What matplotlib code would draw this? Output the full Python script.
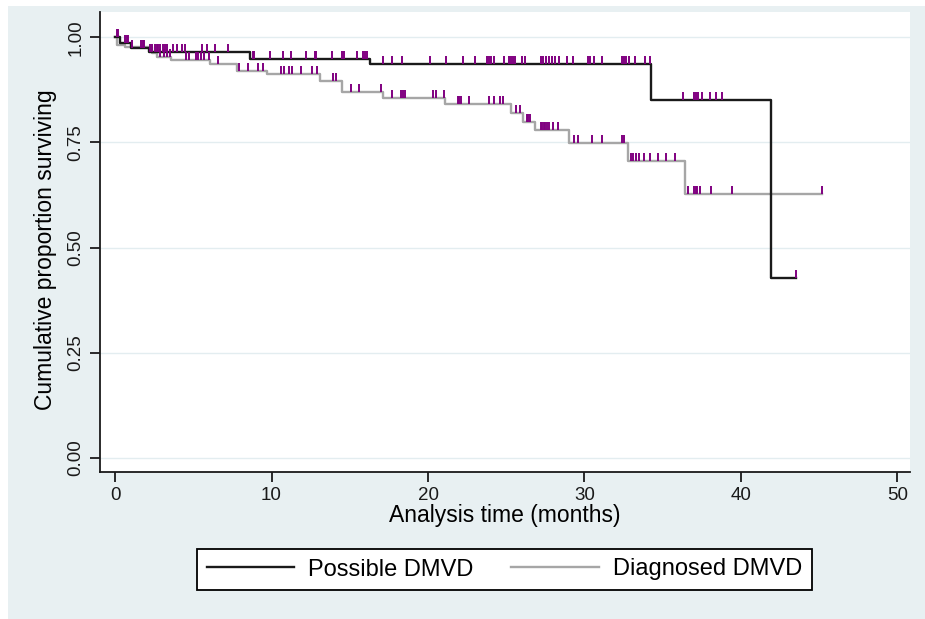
import matplotlib.pyplot as plt
from matplotlib.patches import Rectangle
import numpy as np

# ============================
# Data
# ============================
# Possible DMVD: step times (months) and survival after each step
poss_times = [0.0, 0.3, 1.0, 2.2, 8.6, 16.3, 34.25, 41.9]
poss_surv = [1.0, 0.986, 0.974, 0.964, 0.948, 0.936, 0.850, 0.427]
poss_end = 43.5
poss_censor = [
    0.1, 0.2, 0.64, 0.74, 0.85, 1.06, 1.64, 1.77, 1.88, 2.24, 2.34, 2.55,
    2.66, 2.77, 2.87, 3.08, 3.2, 3.3, 3.73, 3.98, 4.25, 4.47, 5.53, 5.85,
    6.38, 7.23, 8.83, 8.9, 9.89, 10.74, 11.23, 12.23, 12.76, 12.87, 13.87,
    14.5, 14.6, 15.49, 15.85, 16.0, 16.1, 17.12, 17.72, 18.34, 20.1, 21.12,
    22.23, 23.0, 23.76, 23.89, 24.04, 24.19, 24.87, 25.2, 25.3, 25.46,
    25.59, 26.0, 26.2, 27.2, 27.38, 27.55, 27.76, 27.93, 28.1, 28.4, 28.9,
    29.25, 30.25, 30.38, 30.63, 31.12, 32.4, 32.5, 32.66, 32.86, 33.2,
    33.87, 34.2, 36.27, 36.97, 37.12, 37.27, 37.48, 38.0, 38.4, 38.78, 43.5,
]

# Diagnosed DMVD
diag_times = [0.0, 0.1, 0.64, 2.34, 2.66, 3.6, 6.06, 7.8, 9.7, 13.1, 14.5,
              17.1, 21.06, 25.3, 26.1, 26.85, 29.0, 32.8, 36.4]
diag_surv = [1.0, 0.981, 0.977, 0.962, 0.953, 0.945, 0.937, 0.920, 0.912,
             0.896, 0.870, 0.856, 0.842, 0.819, 0.799, 0.779, 0.748, 0.706,
             0.627]
diag_end = 45.2
diag_censor = [
    2.9, 3.1, 3.3, 3.5, 4.56, 4.7, 5.15, 5.3, 5.5, 5.7, 6.0, 6.6, 7.9, 8.5,
    9.15, 9.47, 10.6, 10.8, 11.1, 11.3, 11.9, 12.6, 12.9, 13.9, 14.1, 15.1,
    15.6, 16.97, 17.72, 18.3, 18.4, 18.5, 20.3, 20.5, 21.0, 21.9, 22.0,
    22.1, 22.6, 23.9, 24.2, 24.6, 24.8, 25.6, 25.9, 26.3, 26.4, 26.5, 27.2,
    27.3, 27.4, 27.5, 27.6, 27.7, 28.0, 28.3, 29.3, 29.6, 30.5, 31.1, 32.4,
    32.55, 32.95, 33.1, 33.3, 33.5, 33.8, 34.2, 34.7, 35.2, 35.8, 36.6,
    37.0, 37.1, 37.2, 37.4, 38.1, 39.4, 45.2,
]

x_ticks = [0, 10, 20, 30, 40, 50]
y_ticks = [0.0, 0.25, 0.5, 0.75, 1.0]

# ============================
# Style
# ============================
plt.rcParams['font.family'] = ['Liberation Sans', 'DejaVu Sans']
bg = '#e8f0f2'
purple = '#800080'

fig = plt.figure(figsize=(9.25, 6.19), dpi=100, facecolor='white')
fig.patches.append(Rectangle((8 / 925, 0), 1, (619 - 6) / 619,
                             transform=fig.transFigure, facecolor=bg,
                             edgecolor='none', zorder=-10))

ax = fig.add_axes([100 / 925, (619 - 472) / 619, 810 / 925, 460 / 619])
ax.set_facecolor('white')


def surv_at(times, surv, t):
    idx = np.searchsorted(times, t, side='right') - 1
    return np.array(surv)[idx]


def draw_km(times, surv, end, censor, color):
    xs = list(times) + [end]
    ys = list(surv) + [surv[-1]]
    ax.step(xs, ys, where='post', color=color, linewidth=1.7, zorder=3)
    c = np.array(censor)
    base = surv_at(times, surv, c)
    ax.vlines(c, base, base + 0.019, color=purple, linewidth=1.4, zorder=4)


draw_km(diag_times, diag_surv, diag_end, diag_censor, '#a6a6a6')
draw_km(poss_times, poss_surv, poss_end, poss_censor, '#1a1a1a')

# legend proxies
h1, = ax.plot([], [], color='#1a1a1a', linewidth=1.7)
h2, = ax.plot([], [], color='#a6a6a6', linewidth=1.7)

ax.set_xlim(-0.96, 50.8)
ax.set_ylim(-0.033, 1.06)
ax.set_xticks(x_ticks)
ax.set_yticks(y_ticks)
ax.set_yticklabels([f"{v:.2f}" for v in y_ticks], rotation=90, va='center')
ax.tick_params(axis='both', direction='out', length=7, width=1.3,
               labelsize=13.5, colors='#1a1a1a')
ax.tick_params(axis='y', pad=4)

for s in ['top', 'right']:
    ax.spines[s].set_visible(False)
for s in ['left', 'bottom']:
    ax.spines[s].set_linewidth(1.3)
    ax.spines[s].set_color('#1a1a1a')

ax.grid(axis='y', color='#e3edf0', linewidth=1.0)
ax.set_axisbelow(True)

ax.set_xlabel("Analysis time (months)", fontsize=16.5, labelpad=0)
ax.set_ylabel("Cumulative proportion surviving", fontsize=16.5)
ax.yaxis.set_label_coords(-0.053, 0.483)

leg = fig.legend([h1, h2], ["Possible DMVD", "Diagnosed DMVD"], ncol=2,
                 loc='center', bbox_to_anchor=(504.5 / 925, 1 - 569.5 / 619),
                 frameon=True, fancybox=False, fontsize=17, handlelength=3.7,
                 columnspacing=1.6, handletextpad=0.6, borderpad=0.4)
leg.get_frame().set_edgecolor('black')
leg.get_frame().set_linewidth(1.3)
leg.get_frame().set_facecolor('white')
leg.get_frame().set_alpha(1)

plt.savefig('out.png', dpi=100, facecolor=fig.get_facecolor())
